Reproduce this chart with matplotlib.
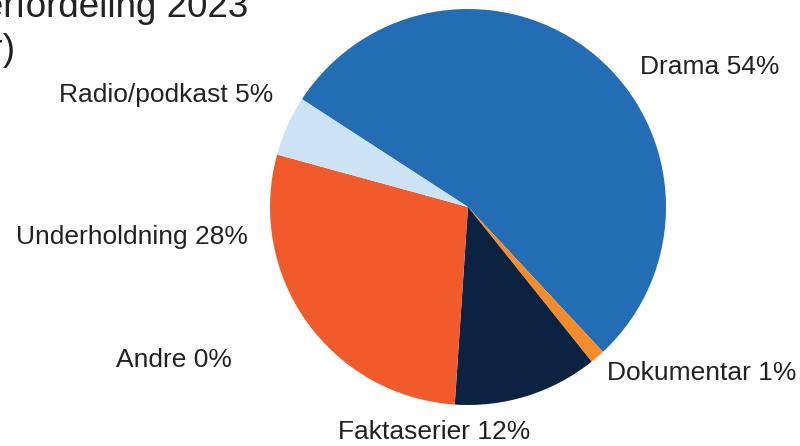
import matplotlib
matplotlib.use("Agg")
import matplotlib.pyplot as plt

plt.rcParams['font.family'] = ['Liberation Sans', 'DejaVu Sans']

# andel per sjanger (prosent), i rekkefølge med klokka fra Drama
sjangre = ["Drama", "Dokumentar", "Faktaserier", "Andre", "Underholdning", "Radio/podkast"]
andel = [53.9, 1.2, 11.8, 0.0, 28.2, 4.9]
farger = ["#236db5", "#f68b2a", "#0b2341", "#9a9a9a", "#f15a2b", "#cce2f5"]

# plassering av etikettene (piksler fra venstre, piksler fra toppen, justering)
etikett_pos = [(640, 67, "left"), (607, 373, "left"), (434, 432, "center"),
               (232, 360, "right"), (248, 237, "right"), (273, 95, "right")]

W, H = 800, 446
fig = plt.figure(figsize=(W / 100, H / 100), dpi=100)
ax = fig.add_axes([0, 0, 1, 1])

ax.pie(andel, colors=farger, startangle=147, counterclock=False,
       center=(468, H - 207), radius=198,
       wedgeprops=dict(linewidth=0))

for navn, verdi, (x, y, ha) in zip(sjangre, andel, etikett_pos):
    ax.text(x, H - y, f"{navn} {round(verdi):d}%", ha=ha, va="center",
            fontsize=19, color="#222222")

# tittel (delvis utenfor bildet, som i originalen)
ax.text(248, H - 17, "Sjangerfordeling 2023", ha="right", va="baseline",
        fontsize=26.5, color="#222222")
ax.text(15, H - 60, "(andel av timer)", ha="right", va="baseline",
        fontsize=26.5, color="#222222")

ax.set_xlim(0, W)
ax.set_ylim(0, H)
ax.set_aspect("equal")
ax.axis("off")

fig.savefig("out.png", dpi=100)
